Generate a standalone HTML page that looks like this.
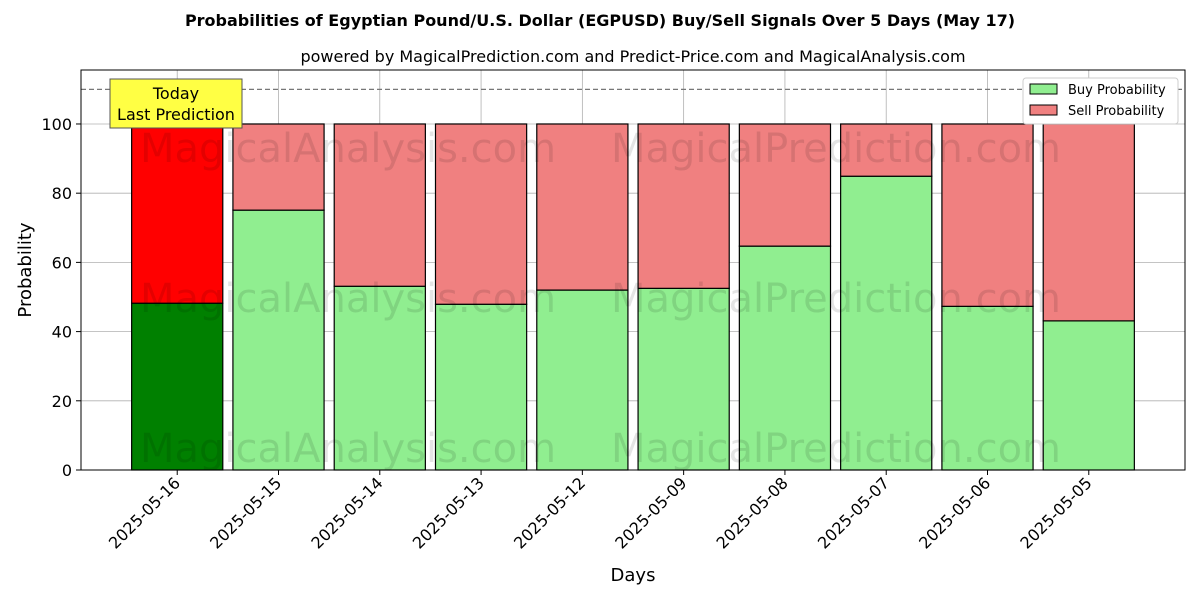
<!DOCTYPE html>
<html><head><meta charset="utf-8"><style>
body{margin:0;background:#fff;font-family:"Liberation Sans","DejaVu Sans",sans-serif}
</style></head><body>
<svg id="chart" width="1200" height="600" xmlns="http://www.w3.org/2000/svg" font-family="DejaVu Sans, Liberation Sans, sans-serif">
<rect width="1200" height="600" fill="#fff"/>
<text x="600" y="26" text-anchor="middle" font-size="16" font-weight="bold">Probabilities of Egyptian Pound/U.S. Dollar (EGPUSD) Buy/Sell Signals Over 5 Days (May 17)</text>
<text x="633" y="62" text-anchor="middle" font-size="16">powered by MagicalPrediction.com and Predict-Price.com and MagicalAnalysis.com</text>
<g id="grid"></g>
<g id="bars"></g>
<g font-size="40" fill="#000" opacity="0.1" text-anchor="middle">
<text x="348" y="162">MagicalAnalysis.com</text><text x="836" y="162">MagicalPrediction.com</text>
<text x="348" y="312">MagicalAnalysis.com</text><text x="836" y="312">MagicalPrediction.com</text>
<text x="348" y="462">MagicalAnalysis.com</text><text x="836" y="462">MagicalPrediction.com</text>
</g>
<line id="thr" x1="81" x2="1185" stroke="#777" stroke-dasharray="5,3" stroke-width="1.2"/>
<rect x="81" y="70" width="1104" height="400" fill="none" stroke="#000" stroke-width="1"/>
<g id="axes" font-size="16"></g>
<text transform="translate(31,270) rotate(-90)" text-anchor="middle" font-size="18">Probability</text>
<text x="633" y="581" text-anchor="middle" font-size="18">Days</text>
<g>
<rect x="110" y="79" width="132" height="49" fill="#ffff44" stroke="#555" stroke-width="1"/>
<text x="176" y="99" text-anchor="middle" font-size="16">Today</text>
<text x="176" y="120" text-anchor="middle" font-size="16">Last Prediction</text>
</g>
<g>
<rect x="1023" y="78" width="155" height="46" fill="#fff" stroke="#ccc" rx="3"/>
<rect x="1030" y="84" width="27" height="10" fill="#90ee90" stroke="#000"/>
<text x="1068" y="94" font-size="13">Buy Probability</text>
<rect x="1030" y="105" width="27" height="10" fill="#f08080" stroke="#000"/>
<text x="1068" y="115" font-size="13">Sell Probability</text>
</g>
</svg>
<script>
const categories=["2025-05-16","2025-05-15","2025-05-14","2025-05-13","2025-05-12","2025-05-09","2025-05-08","2025-05-07","2025-05-06","2025-05-05"];
const buyValues=[48.2,75.1,53.1,47.9,52.0,52.5,64.7,84.9,47.3,43.1];
const yTicks=[0,20,40,60,80,100];
const threshold=110;
const NS="http://www.w3.org/2000/svg";
const L=81,R=1185,T=70,B=470,yMax=115.6,xMin=-0.95,xMax=categories.length-0.05;
const y=v=>B-(v/yMax)*(B-T);
const x=i=>L+(i-xMin)/(xMax-xMin)*(R-L);
const bw=0.9*(x(1)-x(0));
function mk(tag,at,parent){const e=document.createElementNS(NS,tag);for(const k in at)e.setAttribute(k,at[k]);parent.appendChild(e);return e;}
const grid=document.getElementById('grid'),bars=document.getElementById('bars'),axes=document.getElementById('axes');
document.getElementById('thr').setAttribute('y1',y(threshold));
document.getElementById('thr').setAttribute('y2',y(threshold));
yTicks.forEach(t=>{
 const g=mk('line',{x1:L,x2:R,y1:y(t),y2:y(t),stroke:'#b0b0b0','stroke-width':0.8},grid);
 
 
 const tk=mk('line',{x1:L-5,x2:L,y1:y(t),y2:y(t),stroke:'#000'},axes);
 
 
 const tx=mk('text',{x:L-9,y:y(t)+6,'text-anchor':'end'},axes);
 tx.textContent=t;
 
 
});
categories.forEach((c,i)=>{
 const cx=x(i);
 const g=mk('line',{x1:cx,x2:cx,y1:T,y2:B,stroke:'#b0b0b0','stroke-width':0.8},grid);
 
 
 const b=buyValues[i];
 const rb=mk('rect',{x:cx-bw/2,y:y(b),width:bw,height:y(0)-y(b),fill:i==0?'#008000':'#90ee90',stroke:'#000','stroke-width':1.2},bars);
 
 
 const rs=mk('rect',{x:cx-bw/2,y:y(100),width:bw,height:y(b)-y(100),fill:i==0?'#ff0000':'#f08080',stroke:'#000','stroke-width':1.2},bars);
 
 
 const tk=mk('line',{x1:cx,x2:cx,y1:B,y2:B+5,stroke:'#000'},axes);
 
 
 const tx=mk('text',{x:cx+4,y:B+14,'text-anchor':'end',transform:`rotate(-45 ${cx+4} ${B+14})`},axes);
 tx.textContent=c;
 
 
});
</script>
</body></html>
